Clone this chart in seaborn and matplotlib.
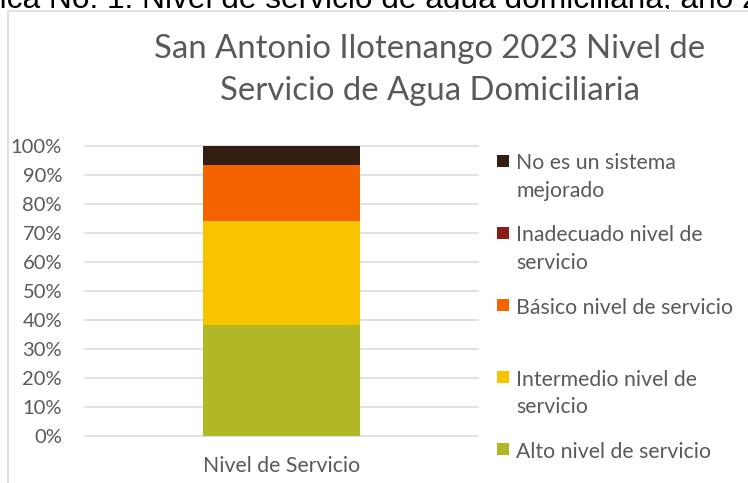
import matplotlib
matplotlib.use("Agg")
import matplotlib.pyplot as plt
from matplotlib.patches import Rectangle
from matplotlib.transforms import Bbox
import seaborn as sns
import pandas as pd
import numpy as np

# ---- data ----
categoria = ["Nivel de Servicio"]
niveles = [
    "Alto nivel de servicio",
    "Intermedio nivel de servicio",
    "Básico nivel de servicio",
    "Inadecuado nivel de servicio",
    "No es un sistema mejorado",
]
valores = [38.3, 35.9, 19.2, 0.0, 6.6]
colores = ["#B0B826", "#F8C400", "#F36300", "#881E15", "#321F12"]
etiquetas_leyenda = [
    "Alto nivel de servicio",
    "Intermedio nivel de\nservicio",
    "Básico nivel de servicio",
    "Inadecuado nivel de\nservicio",
    "No es un sistema\nmejorado",
]
ticks_y = [0, 10, 20, 30, 40, 50, 60, 70, 80, 90, 100]
titulo = "San Antonio Ilotenango 2023 Nivel de\nServicio de Agua Domiciliaria"
leyenda_fig = "Gráfica No. 1: Nivel de servicio de agua domiciliaria, año 2023"

W, H = 748, 483
sns.set_theme(style="white")
plt.rcParams["font.family"] = ["Lato", "DejaVu Sans"]
GRAY = "#595959"
GRID = "#D9D9D9"

fig = plt.figure(figsize=(W / 100, H / 100), dpi=100)
fig.patch.set_facecolor("white")

# chart frame
fig.add_artist(Rectangle((7.5 / W, -0.1), 2.0, (H - 10.5) / H + 0.1,
                         transform=fig.transFigure, fill=False,
                         edgecolor=GRID, linewidth=1.1))

# caption (cut at top of picture, as in the reference)
cap = fig.text(-62 / W, 1 - 8 / H, leyenda_fig, fontsize=22.8, color="black",
               family=["Liberation Sans", "DejaVu Sans"], ha="left", va="baseline")
cap.set_clip_box(Bbox.from_extents(0, H - 9, W, H + 50))
cap.set_clip_on(True)

ax = fig.add_axes([85 / W, 1 - 436.3 / H, (478 - 85) / W, (436.3 - 145.7) / H])

df = pd.DataFrame({
    "categoria": categoria * len(niveles),
    "nivel": niveles,
    "valor": valores,
})
df["acumulado"] = df["valor"].cumsum()

# stacked bar: draw cumulative totals from top down
for i in range(len(niveles) - 1, -1, -1):
    fila = df.iloc[[i]]
    sns.barplot(data=fila, x="categoria", y="acumulado", color=colores[i],
                saturation=1, width=0.402, ax=ax, zorder=3, linewidth=0)

ax.set_xlim(-0.5, 0.5)
ax.set_ylim(0, 100)
ax.set_yticks(ticks_y)
ax.set_yticklabels([f"{t}%" for t in ticks_y])
ax.set_xlabel("")
ax.set_ylabel("")
for s in ax.spines.values():
    s.set_visible(False)
ax.grid(axis="y", color=GRID, linewidth=1.1, zorder=0)
ax.grid(axis="x", visible=False)
for gl in ax.get_ygridlines():
    gl.set_clip_on(False)
ax.tick_params(axis="y", length=0, pad=16.5, labelsize=14.5, labelcolor=GRAY)
ax.tick_params(axis="x", length=0, pad=14, labelsize=15.3, labelcolor=GRAY)

# title
fig.text(430 / W, 1 - 70 / H, titulo, ha="center", va="center", fontsize=23.7,
         color=GRAY, linespacing=1.5)

# legend (top to bottom: reverse of stack order)
orden = list(range(len(niveles) - 1, -1, -1))
for k, i in enumerate(orden):
    yc = 161 + 72.1 * k
    fig.add_artist(Rectangle((497 / W, 1 - (yc + 6) / H), 12 / W, 12 / H,
                             transform=fig.transFigure, facecolor=colores[i],
                             edgecolor="none"))
    for j, linea in enumerate(etiquetas_leyenda[i].split("\n")):
        yb = 169.3 + 72.1 * k + 27.4 * j
        fig.text(516 / W, 1 - yb / H, linea, ha="left", va="baseline",
                 fontsize=15.3, color=GRAY)

fig.savefig("out.png", dpi=100, facecolor="white")
